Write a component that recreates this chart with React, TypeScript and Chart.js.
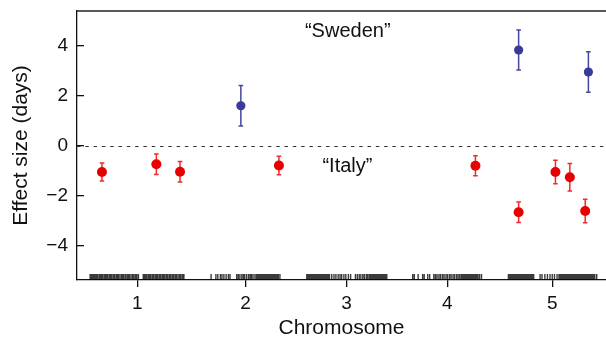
import React, { useEffect, useRef } from 'react';
import { Chart, registerables } from 'chart.js';

Chart.register(...registerables);

// x axis: cumulative genomic position (Mb)
const CHROM_LABELS = ['1', '2', '3', '4', '5'];
const CHROM_MID = [18.8, 52.7, 84.2, 115.7, 148.5];
const X_MIN = 0;
const X_MAX = 165.3;

const Y_TICKS = [-4, -2, 0, 2, 4];
const Y_MIN = -5.36;
const Y_MAX = 5.4;

// QTL effects, "Italy" population (red)
const ITALY_POS = [7.8, 24.8, 32.2, 63.1, 124.5, 138.0, 149.5, 154.0, 158.8];
const ITALY_EFFECT = [-1.04, -0.73, -1.03, -0.78, -0.79, -2.65, -1.04, -1.25, -2.6];
const ITALY_SE = [0.36, 0.41, 0.41, 0.37, 0.4, 0.41, 0.47, 0.55, 0.47];

// QTL effects, "Sweden" population (blue)
const SWEDEN_POS = [51.2, 138.0, 159.8];
const SWEDEN_EFFECT = [1.61, 3.84, 2.96];
const SWEDEN_SE = [0.81, 0.8, 0.81];

// marker positions (rug)
const MARKERS_CHR1 = [4.1, 4.5, 4.9, 5.3, 5.6, 6.0, 6.4, 6.9, 7.3, 7.6, 8.0, 8.5, 8.9, 9.2, 9.6, 10.1, 10.5, 10.8, 11.3, 11.7, 12.2, 12.5, 12.9, 13.4, 13.9, 14.3, 14.6, 15.1, 15.6, 16.0, 16.4, 16.9, 17.4, 17.8, 18.3, 18.7, 19.2, 20.7, 21.1, 21.5, 21.9, 22.4, 22.8, 23.1, 23.6, 24.0, 24.5, 24.9, 25.3, 25.8, 26.2, 26.7, 27.1, 27.5, 28.0, 28.4, 28.9, 29.3, 29.8, 30.2, 30.7, 31.1, 31.6, 32.1, 32.5, 33.0, 33.4];
const MARKERS_CHR2 = [41.9, 43.4, 44.0, 44.8, 45.3, 45.9, 46.6, 47.3, 47.8, 49.9, 50.4, 50.9, 51.5, 52.0, 52.4, 53.0, 53.6, 54.1, 54.5, 55.0, 55.6, 56.1, 56.5, 56.9, 57.3, 57.7, 58.1, 58.5, 58.9, 59.3, 59.7, 60.1, 60.5, 60.9, 61.3, 61.7, 62.1, 62.5, 62.9, 63.4];
const MARKERS_CHR3 = [71.8, 72.1, 72.5, 72.8, 73.2, 73.5, 73.9, 74.2, 74.6, 74.9, 75.3, 75.6, 76.0, 76.3, 76.7, 77.0, 77.4, 77.8, 78.2, 78.6, 78.9, 79.6, 80.3, 80.9, 81.6, 82.2, 82.7, 83.4, 84.0, 84.8, 85.5, 87.0, 87.6, 88.2, 88.7, 89.3, 89.8, 90.4, 90.8, 91.3, 91.7, 92.1, 92.5, 92.9, 93.3, 93.7, 94.1, 94.5, 94.9, 95.3, 95.7, 96.1, 96.5, 96.8];
const MARKERS_CHR4 = [104.9, 105.4, 106.6, 108.0, 108.5, 109.6, 110.2, 111.5, 112.0, 112.5, 113.1, 113.6, 114.2, 114.7, 115.3, 115.8, 116.4, 116.9, 117.5, 118.0, 118.6, 119.1, 119.6, 120.1, 120.5, 120.9, 121.3, 121.7, 122.1, 122.5, 122.9, 123.3, 123.7, 124.1, 124.5, 124.9, 125.3, 125.8, 126.4];
const MARKERS_CHR5 = [134.8, 135.2, 135.5, 135.9, 136.3, 136.6, 137.0, 137.4, 137.7, 138.1, 138.5, 138.8, 139.2, 139.6, 140.0, 140.4, 140.8, 141.2, 141.6, 142.0, 142.4, 142.7, 144.7, 145.3, 146.2, 147.0, 147.8, 148.5, 149.2, 150.0, 150.6, 151.0, 151.4, 151.8, 152.2, 152.6, 153.0, 153.4, 153.8, 154.2, 154.6, 155.0, 155.4, 155.8, 156.2, 156.6, 157.0, 157.4, 157.8, 158.2, 158.6, 159.0, 159.4, 159.8, 160.2, 160.6, 161.0, 161.4, 161.8, 162.4];

const ANNOTATIONS = [
  { text: '\u201CSweden\u201D', x: 84.6, y: 4.36 },
  { text: '\u201CItaly\u201D', x: 84.5, y: -1.03 },
];

const RED = 'rgb(232,0,0)';
const RED_BAR = 'rgb(236,45,45)';
const BLUE = 'rgb(58,58,152)';
const BLUE_BAR = 'rgb(70,70,160)';
const FONT = '"Liberation Sans", Arial, Helvetica, sans-serif';

const errorBarPlugin = {
  id: 'errorBars',
  beforeDatasetsDraw(chart: any) {
    const { ctx } = chart;
    const xs = chart.scales.x;
    const ys = chart.scales.y;
    chart.data.datasets.forEach((ds: any) => {
      const errs: number[] = ds.errors || [];
      ctx.save();
      ctx.strokeStyle = ds.barColor;
      ctx.lineWidth = 1.5;
      ds.data.forEach((p: any, i: number) => {
        const px = xs.getPixelForValue(p.x);
        const top = ys.getPixelForValue(p.y + errs[i]);
        const bot = ys.getPixelForValue(p.y - errs[i]);
        ctx.beginPath();
        ctx.moveTo(px, top);
        ctx.lineTo(px, bot);
        ctx.moveTo(px - 2.3, top);
        ctx.lineTo(px + 2.3, top);
        ctx.moveTo(px - 2.3, bot);
        ctx.lineTo(px + 2.3, bot);
        ctx.stroke();
      });
      ctx.restore();
    });
  },
};

const decorPlugin = {
  id: 'decor',
  beforeDatasetsDraw(chart: any) {
    const { ctx, chartArea } = chart;
    const xs = chart.scales.x;
    const ys = chart.scales.y;
    ctx.save();
    // top frame line
    ctx.strokeStyle = '#222';
    ctx.lineWidth = 1.3;
    ctx.beginPath();
    ctx.moveTo(chartArea.left, chartArea.top);
    ctx.lineTo(chartArea.right, chartArea.top);
    ctx.stroke();
    // zero line
    const y0 = Math.round(ys.getPixelForValue(0)) + 0.5;
    ctx.setLineDash([3.5, 4.8]);
    ctx.strokeStyle = '#333';
    ctx.lineWidth = 1.2;
    ctx.beginPath();
    ctx.moveTo(chartArea.left, y0);
    ctx.lineTo(chartArea.right, y0);
    ctx.stroke();
    ctx.setLineDash([]);
    // rug
    const markers = [...MARKERS_CHR1, ...MARKERS_CHR2, ...MARKERS_CHR3, ...MARKERS_CHR4, ...MARKERS_CHR5];
    ctx.strokeStyle = 'rgba(10,10,10,0.8)';
    ctx.lineWidth = 1.4;
    ctx.beginPath();
    markers.forEach((m) => {
      const px = xs.getPixelForValue(m);
      ctx.moveTo(px, chartArea.bottom - 6);
      ctx.lineTo(px, chartArea.bottom);
    });
    ctx.stroke();
    // annotations
    ctx.fillStyle = '#111';
    ctx.font = `20px ${FONT}`;
    ctx.textAlign = 'center';
    ctx.textBaseline = 'alphabetic';
    ANNOTATIONS.forEach((a) => {
      ctx.fillText(a.text, xs.getPixelForValue(a.x), ys.getPixelForValue(a.y));
    });
    ctx.restore();
  },
};

const zeroPadding = (scale: any) => {
  scale.paddingTop = 0;
  scale.paddingBottom = 0;
  scale.paddingLeft = 0;
  scale.paddingRight = 0;
};

export default function App() {
  const ref = useRef<HTMLCanvasElement>(null);
  useEffect(() => {
    document.body.style.margin = '0';
    const chart = new Chart(ref.current as HTMLCanvasElement, {
      type: 'scatter',
      data: {
        datasets: [
          {
            label: 'Italy',
            data: ITALY_POS.map((x, i) => ({ x, y: ITALY_EFFECT[i] })),
            errors: ITALY_SE,
            barColor: RED_BAR,
            backgroundColor: RED,
            borderColor: RED,
            borderWidth: 0,
            pointRadius: 5,
          } as any,
          {
            label: 'Sweden',
            data: SWEDEN_POS.map((x, i) => ({ x, y: SWEDEN_EFFECT[i] })),
            errors: SWEDEN_SE,
            barColor: BLUE_BAR,
            backgroundColor: BLUE,
            borderColor: BLUE,
            borderWidth: 0,
            pointRadius: 4.6,
          } as any,
        ],
      },
      options: {
        animation: false,
        responsive: false,
        devicePixelRatio: 1,
        layout: { autoPadding: false, padding: { top: 11, left: 0, right: 0, bottom: 0 } },
        plugins: { legend: { display: false }, tooltip: { enabled: false } },
        scales: {
          x: {
            type: 'linear',
            min: X_MIN,
            max: X_MAX,
            afterBuildTicks: (scale: any) => {
              scale.ticks = CHROM_MID.map((v) => ({ value: v }));
            },
            afterFit: (scale: any) => {
              scale.height = 64;
              zeroPadding(scale);
            },
            ticks: {
              autoSkip: false,
              maxRotation: 0,
              color: '#111',
              font: { family: FONT, size: 19 },
              padding: 5,
              callback: (_v: any, i: number) => CHROM_LABELS[i],
            },
            grid: {
              display: true,
              drawOnChartArea: false,
              drawTicks: true,
              tickLength: 7,
              color: '#111',
              lineWidth: 1.3,
            },
            border: { display: true, color: '#111', width: 1.3 },
            title: {
              display: true,
              text: 'Chromosome',
              color: '#111',
              font: { family: FONT, size: 21, lineHeight: 0.8 },
              padding: { top: 0, bottom: 7.5 },
            },
          },
          y: {
            type: 'linear',
            min: Y_MIN,
            max: Y_MAX,
            afterBuildTicks: (scale: any) => {
              scale.ticks = Y_TICKS.map((v) => ({ value: v }));
            },
            afterFit: (scale: any) => {
              scale.width = 77;
              zeroPadding(scale);
            },
            ticks: {
              color: '#111',
              font: { family: FONT, size: 19 },
              padding: 16,
              callback: (v: any) => (v < 0 ? '\u2212' + Math.abs(v) : String(v)),
            },
            grid: {
              display: true,
              drawOnChartArea: false,
              drawTicks: true,
              tickLength: -7,
              color: '#111',
              lineWidth: 1.3,
            },
            border: { display: true, color: '#111', width: 1.3 },
            title: {
              display: true,
              text: 'Effect size (days)',
              color: '#111',
              font: { family: FONT, size: 21 },
              padding: { top: 8.5, bottom: 0 },
            },
          },
        },
      } as any,
      plugins: [decorPlugin, errorBarPlugin],
    });
    return () => chart.destroy();
  }, []);
  return (
    <div style={{ width: 606, height: 344 }}>
      <canvas ref={ref} width={606} height={344} style={{ display: 'block' }} />
    </div>
  );
}
